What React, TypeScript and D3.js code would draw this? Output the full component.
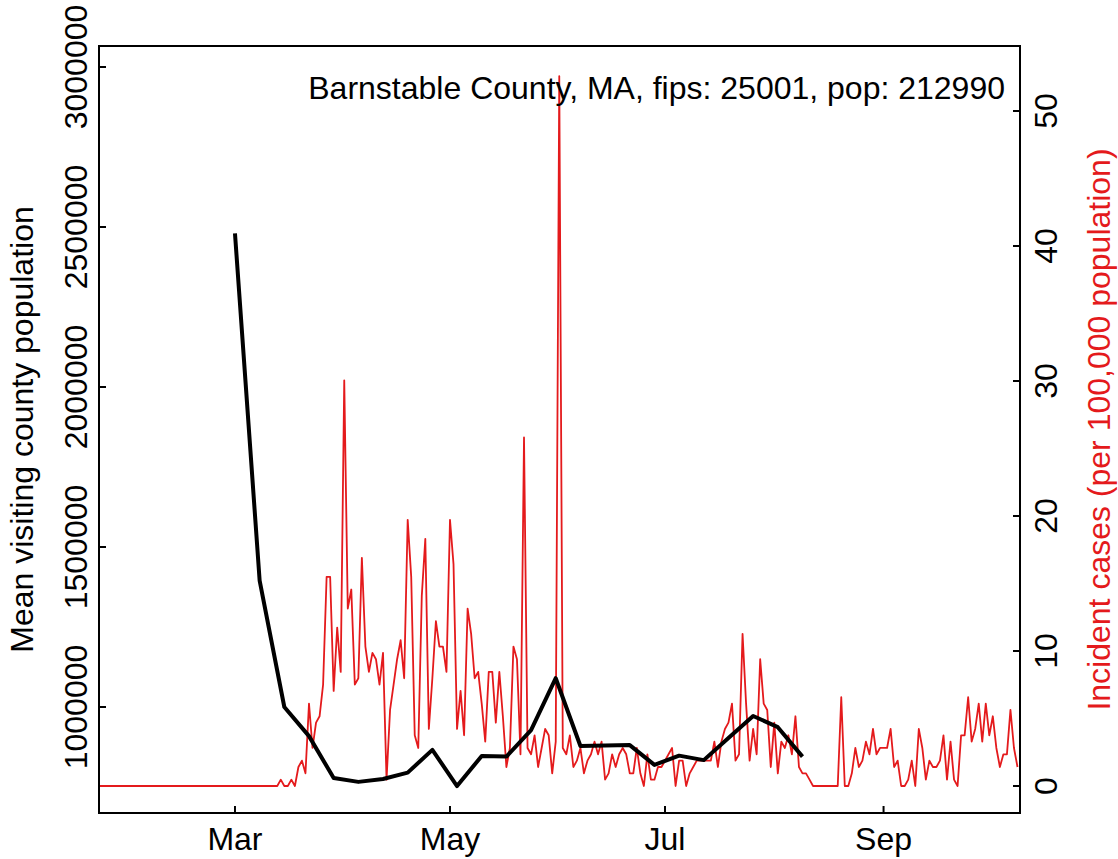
import React from "react";
import * as d3 from "d3";

// ---- Data ----
const countyTitle = "Barnstable County, MA, fips: 25001, pop: 212990";
const population = 212990;

// Daily new cases from 2020-01-22 to 2020-10-09
const seriesStart = Date.UTC(2020, 0, 22);
const dailyCases: number[] = [
  // Jan 22 - Mar 13
  0, 0, 0, 0, 0, 0, 0, 0, 0, 0, 0, 0, 0, 0, 0, 0, 0, 0, 0, 0, 0, 0, 0, 0, 0, 0,
  0, 0, 0, 0, 0, 0, 0, 0, 0, 0, 0, 0, 0, 0, 0, 0, 0, 0, 0, 0, 0, 0, 0, 0, 0, 0,
  // Mar 14 - May 4
  1, 0, 0, 1, 0, 3, 4, 2, 13, 6, 10, 11, 16, 33, 33, 15, 25, 18, 64, 28, 31, 16, 17, 36, 22, 18,
  21, 20, 16, 21, 1, 12, 16, 20, 23, 17, 42, 33, 8, 6, 30, 39, 9, 17, 26, 22, 22, 18, 42, 35, 9, 15,
  // May 5 - Jun 24
  8, 28, 24, 17, 18, 13, 7, 18, 18, 10, 18, 11, 3, 6, 22, 20, 5, 55, 6, 5, 8, 3, 6, 9, 8,
  2, 7, 112, 6, 5, 8, 3, 4, 6, 2, 4, 5, 7, 5, 7, 1, 2, 5, 3, 5, 6, 5, 2, 2, 6, 2,
  // Jun 25 - Aug 12
  0, 5, 1, 1, 3, 3, 4, 5, 6, 0, 4, 4, 0, 2, 3, 4, 4, 4, 4, 4, 7, 3, 7, 9, 10,
  13, 4, 5, 24, 13, 4, 9, 5, 20, 13, 12, 3, 10, 2, 7, 6, 8, 5, 11, 3, 2, 2, 1, 0,
  // Aug 13 - Aug 19
  0, 0, 0, 0, 0, 0, 0,
  // Aug 20 - Oct 9
  14, 0, 0, 2, 6, 3, 4, 7, 5, 9, 5, 6, 6, 6, 9, 3, 4, 0, 0, 1, 4, 0, 9, 6, 1,
  4, 3, 3, 4, 8, 1, 7, 1, 0, 8, 8, 14, 7, 9, 13, 7, 13, 8, 11, 6, 3, 5, 5, 12, 6, 3,
];

// Weekly mean visiting county population (weeks starting Sundays from 2020-03-01)
const weekStarts: string[] = [
  "2020-03-01", "2020-03-08", "2020-03-15", "2020-03-22", "2020-03-29", "2020-04-05",
  "2020-04-12", "2020-04-19", "2020-04-26", "2020-05-03", "2020-05-10", "2020-05-17",
  "2020-05-24", "2020-05-31", "2020-06-07", "2020-06-14", "2020-06-21", "2020-06-28",
  "2020-07-05", "2020-07-12", "2020-07-19", "2020-07-26", "2020-08-02", "2020-08-09",
];
const visitingPop: number[] = [
  2480000, 1395000, 1000000, 909000, 778000, 766000,
  775000, 795000, 866000, 753000, 847000, 845000,
  928000, 1090000, 878000, 880000, 881000, 819000,
  848000, 834000, 903000, 972000, 937000, 845000,
];

const xTickDates: string[] = ["2020-03-01", "2020-05-01", "2020-07-01", "2020-09-01"];
const xTickLabels: string[] = ["Mar", "May", "Jul", "Sep"];
const leftTicks: number[] = [1000000, 1500000, 2000000, 2500000, 3000000];
const rightTicks: number[] = [0, 10, 20, 30, 40, 50];

const leftTitle = "Mean visiting county population";
const rightTitle = "Incident cases (per 100,000 population)";

// ---- Layout ----
const W = 1118;
const H = 859;
const box = { left: 99, right: 1020, top: 46, bottom: 813 };
const RED = "#e41a1c";
const FONT = "'Liberation Sans', Arial, Helvetica, sans-serif";
const FS = 32;
const TICK = 7;

const parse = (s: string) => {
  const [y, m, d] = s.split("-").map(Number);
  return new Date(Date.UTC(y, m - 1, d));
};

export default function App() {
  const x = d3
    .scaleUtc()
    .domain([new Date(seriesStart), new Date(Date.UTC(2020, 9, 9))])
    .range([97.5, 1017.5]);
  const yL = d3.scaleLinear().domain([1000000, 3000000]).range([707, 67]);
  const yR = d3.scaleLinear().domain([0, 50]).range([786, 111]);

  const redData = dailyCases.map((c, i) => ({
    date: new Date(seriesStart + i * 86400000),
    v: (c / population) * 100000,
  }));
  const blackData = weekStarts.map((s, i) => ({ date: parse(s), v: visitingPop[i] }));

  const redLine = d3
    .line<{ date: Date; v: number }>()
    .x((d) => x(d.date))
    .y((d) => yR(d.v));
  const blackLine = d3
    .line<{ date: Date; v: number }>()
    .x((d) => x(d.date))
    .y((d) => yL(d.v));

  return (
    <svg
      width={W}
      height={H}
      style={{ position: "absolute", left: 0, top: 0, background: "#fff" }}
      fontFamily={FONT}
    >
      <rect x={0} y={0} width={W} height={H} fill="#fff" />
      <defs>
        <clipPath id="plotclip">
          <rect
            x={box.left}
            y={box.top}
            width={box.right - box.left}
            height={box.bottom - box.top}
          />
        </clipPath>
      </defs>

      <g clipPath="url(#plotclip)">
        <path
          d={redLine(redData) || ""}
          fill="none"
          stroke={RED}
          strokeWidth={1.8}
          strokeLinejoin="round"
        />
        <path
          d={blackLine(blackData) || ""}
          fill="none"
          stroke="#000"
          strokeWidth={4}
          strokeLinejoin="round"
        />
      </g>

      {/* box */}
      <rect
        x={box.left}
        y={box.top}
        width={box.right - box.left}
        height={box.bottom - box.top}
        fill="none"
        stroke="#000"
        strokeWidth={2}
      />

      {/* bottom axis */}
      {xTickDates.map((s, i) => {
        const xx = x(parse(s));
        return (
          <g key={s}>
            <line x1={xx} x2={xx} y1={box.bottom} y2={box.bottom - TICK} stroke="#000" strokeWidth={2} />
            <text x={xx} y={850} textAnchor="middle" fontSize={FS} fill="#000">
              {xTickLabels[i]}
            </text>
          </g>
        );
      })}

      {/* left axis */}
      {leftTicks.map((v) => {
        const yy = yL(v);
        return (
          <g key={v}>
            <line x1={box.left} x2={box.left + TICK} y1={yy} y2={yy} stroke="#000" strokeWidth={2} />
            <text
              transform={`translate(87,${yy}) rotate(-90)`}
              textAnchor="middle"
              fontSize={FS}
              fill="#000"
            >
              {String(v)}
            </text>
          </g>
        );
      })}

      {/* right axis */}
      {rightTicks.map((v) => {
        const yy = yR(v);
        return (
          <g key={v}>
            <line x1={box.right} x2={box.right - TICK} y1={yy} y2={yy} stroke="#000" strokeWidth={2} />
            <text
              transform={`translate(1057,${yy}) rotate(-90)`}
              textAnchor="middle"
              fontSize={FS}
              fill="#000"
            >
              {String(v)}
            </text>
          </g>
        );
      })}

      {/* axis titles */}
      <text
        transform={`translate(33,${(box.top + box.bottom) / 2}) rotate(-90)`}
        textAnchor="middle"
        fontSize={FS}
        fill="#000"
      >
        {leftTitle}
      </text>
      <text
        transform={`translate(1110,${(box.top + box.bottom) / 2}) rotate(-90)`}
        textAnchor="middle"
        fontSize={FS}
        fill={RED}
      >
        {rightTitle}
      </text>

      {/* in-plot title */}
      <text x={1005} y={99} textAnchor="end" fontSize={FS} fill="#000">
        {countyTitle}
      </text>
    </svg>
  );
}
